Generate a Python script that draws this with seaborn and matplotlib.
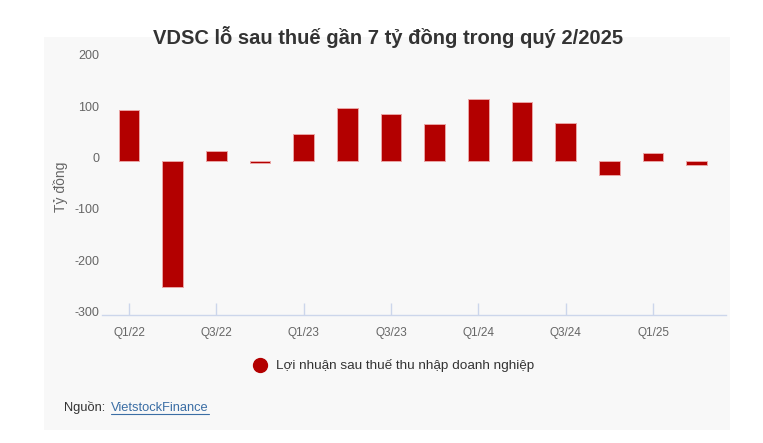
import matplotlib
matplotlib.use("Agg")
import matplotlib.pyplot as plt
import matplotlib.transforms as mtransforms
import seaborn as sns
import pandas as pd
from matplotlib.patches import Rectangle
from matplotlib.lines import Line2D

# data
quarters = ["Q1/22", "Q2/22", "Q3/22", "Q4/22", "Q1/23", "Q2/23", "Q3/23",
            "Q4/23", "Q1/24", "Q2/24", "Q3/24", "Q4/24", "Q1/25", "Q2/25"]
profit = [100, -245, 20, -3, 52, 103, 92, 72, 121, 116, 74, -28, 16, -7]
yticks = [-300, -200, -100, 0, 100, 200]

title = "VDSC lỗ sau thuế gần 7 tỷ đồng trong quý 2/2025"
series_name = "Lợi nhuận sau thuế thu nhập doanh nghiệp"

sns.set_style("white")
plt.rcParams["font.family"] = ["Liberation Sans", "DejaVu Sans"]

bg = "#f8f8f8"
bar_color = "#b30000"
axis_color = "#ccd6eb"

fig = plt.figure(figsize=(7.63, 4.43), dpi=100)
fig.patch.set_facecolor("white")
fig.patches.append(Rectangle((44 / 763, 1 - 430 / 443), 686 / 763, 393 / 443,
                             transform=fig.transFigure, facecolor=bg,
                             edgecolor="none", zorder=-5))

ax = fig.add_axes([102 / 763, 1 - 315 / 443, 624 / 763, 256.6 / 443])
ax.set_facecolor(bg)

df = pd.DataFrame({"quarter": quarters, "profit": profit})
sns.barplot(data=df, x="quarter", y="profit", color=bar_color, saturation=1,
            width=0.47, edgecolor="#eaa5a5", linewidth=0.7, ax=ax)

ax.set_xlim(-0.62, 13.67)
ax.set_ylim(-300, 200)
ax.set_yticks(yticks)
ax.set_yticklabels([str(v) for v in yticks])
ax.set_xticks(range(0, len(quarters), 2))
ax.set_xticklabels(quarters[::2])

for side in ["top", "right", "left"]:
    ax.spines[side].set_visible(False)
ax.spines["bottom"].set_color(axis_color)
ax.spines["bottom"].set_linewidth(1)

ax.tick_params(axis="x", bottom=True, direction="in", length=8.5, width=1,
               color=axis_color, labelsize=8.5, labelcolor="#666666", pad=8.5)
ax.tick_params(axis="y", left=False, length=0, labelsize=9,
               labelcolor="#666666", pad=2)
# y labels sit a little above their values, as in the original
shift = mtransforms.ScaledTranslation(0, 3.5 / 100, fig.dpi_scale_trans)
for lbl in ax.get_yticklabels():
    lbl.set_transform(lbl.get_transform() + shift)

ax.set_xlabel("")
ax.set_ylabel("Tỷ đồng", fontsize=10, color="#666666")
ax.yaxis.set_label_coords(-0.0545, 0.5)

fig.text(388 / 763, 1 - 37 / 443, title, ha="center", va="center",
         fontsize=14.5, fontweight="bold", color="#333333")

# legend
handle = Line2D([], [], marker="o", linestyle="none", markersize=10,
                markerfacecolor=bar_color, markeredgecolor=bar_color)
fig.legend([handle], [series_name], loc="center",
           bbox_to_anchor=(390 / 763, 1 - 366 / 443), frameon=False,
           fontsize=9.7, handletextpad=0.2, labelcolor="#333333")

# source line
fig.text(64 / 763, 1 - 408 / 443, "Nguồn: ", ha="left", va="center",
         fontsize=9.3, color="#333333")
src = fig.text(111 / 763, 1 - 408 / 443, "VietstockFinance", ha="left",
               va="center", fontsize=9.3, color="#3b6ea5")
fig.canvas.draw()
bb = src.get_window_extent()
fig.lines.append(Line2D([bb.x0 / 763, bb.x1 / 763],
                        [(bb.y0 + 0.5) / 443, (bb.y0 + 0.5) / 443],
                        transform=fig.transFigure, color="#3b6ea5", lw=0.8))

fig.savefig("out.png", dpi=100, facecolor="white")
